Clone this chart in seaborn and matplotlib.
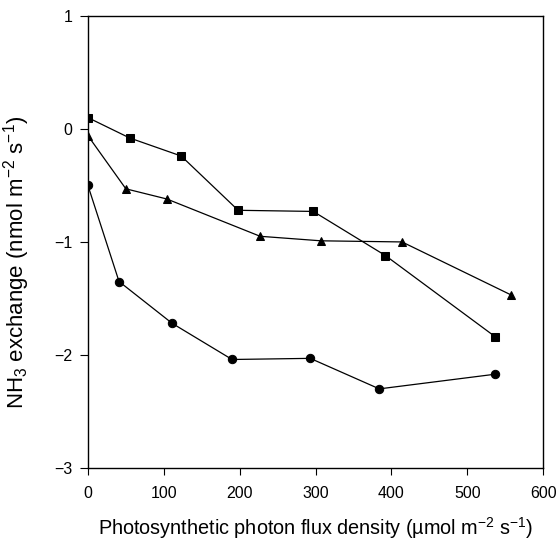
import matplotlib
matplotlib.use("Agg")
import matplotlib.pyplot as plt
import seaborn as sns
import pandas as pd

sq_x = [0, 55, 123, 198, 297, 392, 537]
sq_y = [0.10, -0.08, -0.24, -0.72, -0.73, -1.12, -1.84]
tri_x = [0, 50, 104, 227, 307, 414, 558]
tri_y = [-0.06, -0.53, -0.62, -0.95, -0.99, -1.00, -1.47]
cir_x = [0, 41, 111, 190, 293, 384, 537]
cir_y = [-0.50, -1.35, -1.72, -2.04, -2.03, -2.30, -2.17]

x_ticks = [0, 100, 200, 300, 400, 500, 600]
y_ticks = [-3, -2, -1, 0, 1]

sns.set_style("ticks")
plt.rcParams['font.family'] = ['Liberation Sans', 'DejaVu Sans']
plt.rcParams['mathtext.fontset'] = 'custom'
plt.rcParams['mathtext.rm'] = 'Liberation Sans'
plt.rcParams['mathtext.it'] = 'Liberation Sans'
plt.rcParams['mathtext.bf'] = 'Liberation Sans:bold'
plt.rcParams['text.color'] = 'black'
plt.rcParams['axes.labelcolor'] = 'black'
plt.rcParams['xtick.color'] = 'black'
plt.rcParams['ytick.color'] = 'black'

fig = plt.figure(figsize=(5.6, 5.48), dpi=100)
ax = fig.add_axes([0.157, 0.146, 0.813, 0.825])

for xs, ys, m, ms in [(sq_x, sq_y, 's', 5.2), (tri_x, tri_y, '^', 5.8), (cir_x, cir_y, 'o', 6.0)]:
    df = pd.DataFrame({"x": xs, "y": ys})
    sns.lineplot(data=df, x="x", y="y", sort=False, ax=ax, color="black",
                 linewidth=0.9, marker=m, markersize=ms, markeredgecolor="black",
                 markerfacecolor="black")

ax.set_xlim(0, 600)
ax.set_ylim(-3, 1)
ax.set_xticks(x_ticks)
ax.set_yticks(y_ticks)
ax.tick_params(axis='both', labelsize=11.5, width=0.8, color='black', labelcolor='black', direction='out')
ax.tick_params(axis='y', length=6, pad=5)
ax.tick_params(axis='x', length=5, pad=8)
for s in ax.spines.values():
    s.set_visible(True)
    s.set_linewidth(1.0)
    s.set_color('black')
ax.set_xlabel("Photosynthetic photon flux density (µmol m$^{-2}$ s$^{-1}$)", fontsize=14.3)
ax.set_ylabel("NH$_3$ exchange (nmol m$^{-2}$ s$^{-1}$)", fontsize=16)
ax.xaxis.set_label_coords(0.5, -0.105)
ax.yaxis.set_label_coords(-0.122, 0.455)
fig.savefig("out.png", dpi=100)
